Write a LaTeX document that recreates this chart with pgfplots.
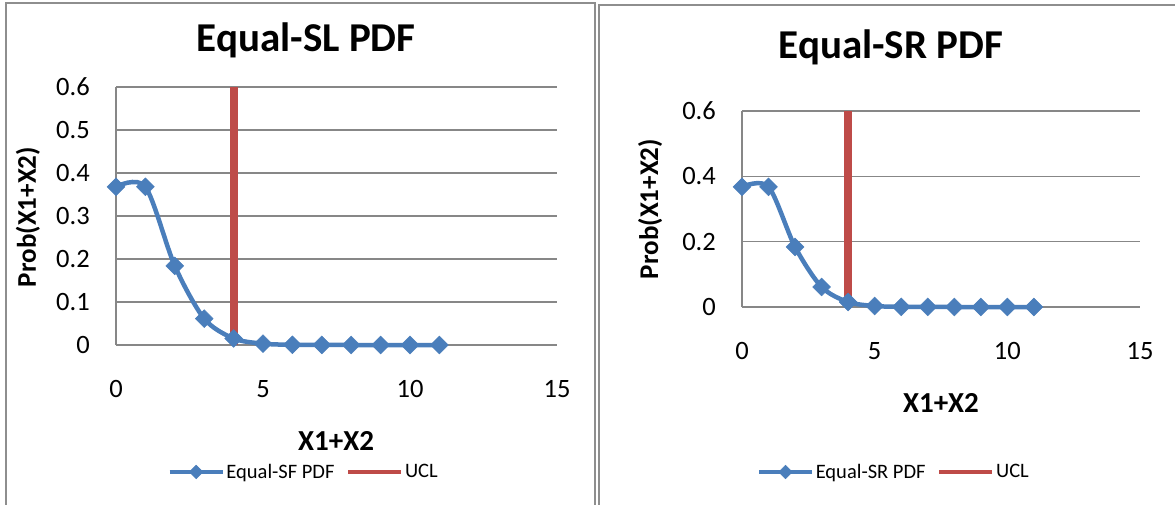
\documentclass[border=0pt]{standalone}
\usepackage{fontspec}
\setmainfont{Carlito}
\usepackage{pgfplots}
\usepackage{pgfplotstable}
\pgfplotsset{compat=1.18}
\definecolor{pdfblue}{HTML}{4A7EBB}
\definecolor{uclred}{HTML}{BE4B48}
\definecolor{gridgray}{HTML}{878787}
\definecolor{framegray}{HTML}{8E8E8E}

\pgfplotstableread{
x y
0 0.3679
1 0.3679
2 0.1839
3 0.0613
4 0.0153
5 0.0031
6 0.0005
7 0.0001
8 0.0000
9 0.0000
10 0.0000
11 0.0000
}\pdfdata

\pgfplotsset{
 excel/.style={
   scale only axis, clip=false,
   xmin=0, xmax=15, ymin=0, ymax=0.6,
   xtick={0,5,10,15}, xticklabels={0,5,10,15},
   axis x line*=bottom, axis y line*=left,
   axis line style={draw=gridgray, line width=1.5pt, -},
   major grid style={draw=gridgray, line width=1.5pt},
   ymajorgrids,
   major tick length=0pt,
   tick label style={font=\fontsize{26.5}{31}\selectfont, text=black},
   xticklabel style={anchor=center, inner sep=0pt, yshift=-44pt},
   yticklabel style={anchor=east, inner sep=0pt, xshift=-26pt},
   label style={font=\bfseries\fontsize{27}{32}\selectfont},
   title style={font=\bfseries\fontsize{41}{49}\selectfont, anchor=base},
   legend style={draw=none, fill=none, font=\fontsize{20.5}{24}\selectfont,
     legend columns=2, anchor=center,
     /tikz/every even column/.append style={column sep=10pt}},
   legend image code/.code={\draw[mark repeat=2,mark phase=2,#1] plot coordinates {(0pt,0pt) (26.5pt,0pt) (53pt,0pt)};},
   legend cell align=left,
 },
 pdfline/.style={pdfblue, line width=4.5pt, smooth, mark=square*,
   mark size=6.3pt, mark options={solid, rotate=45, fill=pdfblue, draw=pdfblue, line width=0.5pt},
   legend image post style={line width=3.5pt, mark size=4.8pt}},
 uclline/.style={uclred, line width=8pt, legend image post style={line width=3.5pt}},
}

\begin{document}
\begin{tikzpicture}[x=1pt,y=1pt]
\path[use as bounding box] (0,0) rectangle (1175,504);
\fill[white] (0,0) rectangle (1175,504);
\draw[framegray, line width=2pt] (5.5,-5) -- (5.5,500.5) -- (595,500.5) -- (595,-5);
\draw[framegray, line width=2pt] (598.5,-5) -- (598.5,499) -- (1180,499);

\begin{axis}[excel, at={(116pt,159pt)}, anchor=south west,
  width=441pt, height=258pt,
  ytick={0,0.1,0.2,0.3,0.4,0.5,0.6},
  yticklabels={0,0.1,0.2,0.3,0.4,0.5,0.6},
  title={Equal-SL PDF},
  title style={at={(axis description cs:0.431,1.116)}},
  xlabel={X1+X2},
  xlabel style={at={(axis description cs:0.499,-0.372)}, anchor=center, font=\bfseries\fontsize{29}{34}\selectfont},
  ylabel={Prob(X1+X2)},
  ylabel style={at={(axis description cs:-0.2,0.496)}, anchor=center},
  legend style={at={(axis description cs:0.426,-0.492)}},
]
\addplot[pdfline] table[x=x,y=y] {\pdfdata};
\addlegendentry{Equal-SF PDF}
\addplot[uclline] coordinates {(4,0) (4,0.6)};
\addlegendentry{UCL}
\end{axis}

\begin{axis}[excel, at={(742pt,197pt)}, anchor=south west,
  width=398pt, height=196pt,
  ytick={0,0.2,0.4,0.6},
  yticklabels={0,0.2,0.4,0.6},
  title={Equal-SR PDF},
  title style={at={(axis description cs:0.374,1.235)}},
  xlabel={X1+X2},
  xlabel style={at={(axis description cs:0.5,-0.49)}, anchor=center, font=\bfseries\fontsize{29}{34}\selectfont},
  ylabel={Prob(X1+X2)},
  ylabel style={at={(axis description cs:-0.231,0.5)}, anchor=center},
  legend style={at={(axis description cs:0.382,-0.842)}},
]
\addplot[pdfline] table[x=x,y=y] {\pdfdata};
\addlegendentry{Equal-SR PDF}
\addplot[uclline] coordinates {(4,0) (4,0.6)};
\addlegendentry{UCL}
\end{axis}
\end{tikzpicture}
\end{document}
